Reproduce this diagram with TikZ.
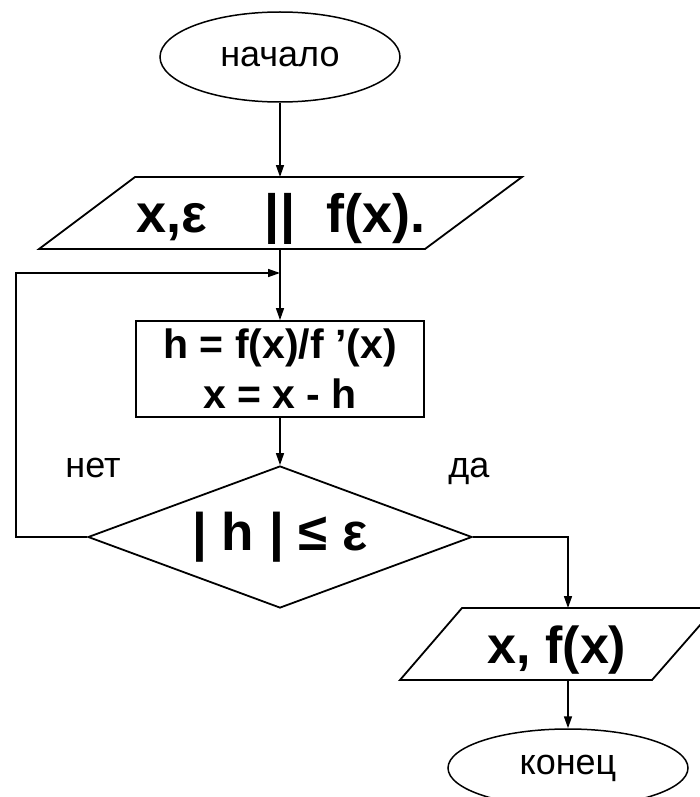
\documentclass[tikz,border=0pt]{standalone}
\usepackage{fontspec}
\setmainfont{Liberation Sans}
\usetikzlibrary{shapes.geometric,arrows.meta}
\begin{document}
\begin{tikzpicture}[x=1pt,y=-1pt,
  conn/.style={line width=1.5pt,-{Triangle[length=12pt,width=8pt]}},
  outline/.style={draw,line width=1.8pt,line join=miter},
  term/.style={ellipse,draw,line width=1.5pt,minimum width=240pt,inner sep=0pt,
    font=\fontsize{36}{43}\selectfont},
  procbox/.style={rectangle,outline,minimum width=288pt,minimum height=96pt,inner sep=0pt,
    align=center,font=\fontsize{41}{50}\selectfont\bfseries},
  decision/.style={diamond,outline,aspect=2.7,minimum width=384pt,minimum height=142pt,
    inner sep=0pt,font=\fontsize{53}{63}\selectfont\bfseries},
  iotext/.style={inner sep=0pt,font=\fontsize{54}{64}\selectfont\bfseries},
  lbl/.style={inner sep=0pt,font=\fontsize{36}{43}\selectfont}]
\useasboundingbox (0,0) rectangle (700,797);

% start
\node[term,minimum height=90pt] (start) at (280,57) {начало};

% input parallelogram
\coordinate (in1a) at (135,177);
\coordinate (in1b) at (522,177);
\coordinate (in1c) at (425,249);
\coordinate (in1d) at (39,249);
\draw[outline] (in1a) -- (in1b) -- (in1c) -- (in1d) -- cycle;
\coordinate (in1n) at (280,177);
\coordinate (in1s) at (280,249);
\node[iotext,anchor=base west] (in1t1) at (136,232) {x,ε};
\node[iotext,anchor=base] (in1t2) at (280,232) {||};
\node[iotext,anchor=base east] (in1t3) at (426,232) {f(x).};

% process
\node[procbox] (proc) at (280,369) {h = f(x)/f ’(x)\\x = x - h};

% decision
\node[decision] (dec) at (280,537) {| h | ≤ ε};
\node[lbl,anchor=base] (no) at (93,477) {нет};
\node[lbl,anchor=base] (yes) at (469,477) {да};

% output parallelogram
\coordinate (out2a) at (462,608);
\coordinate (out2b) at (715,608);
\coordinate (out2c) at (652,680);
\coordinate (out2d) at (400,680);
\draw[outline] (out2a) -- (out2b) -- (out2c) -- (out2d) -- cycle;
\coordinate (out2n) at (568,608);
\coordinate (out2s) at (568,680);
\node[iotext,font=\fontsize{52}{62}\selectfont\bfseries,anchor=base] (out2t) at (557,663) {x, f(x)};

% end
\node[term,minimum height=78pt] (stop) at (568,768) {конец};

% connectors
\coordinate (loopx) at (16,273);
\coordinate (merge) at (280,273);
\draw[conn] (start.south) -- (in1n);
\draw[conn] (in1s) -- (proc.north);
\draw[conn] (dec.west) -| (loopx) -- (merge);
\draw[conn] (proc.south) -- (dec.north);
\draw[conn] (dec.east) -| (out2n);
\draw[conn] (out2s) -- (stop.north);
\end{tikzpicture}
\end{document}
